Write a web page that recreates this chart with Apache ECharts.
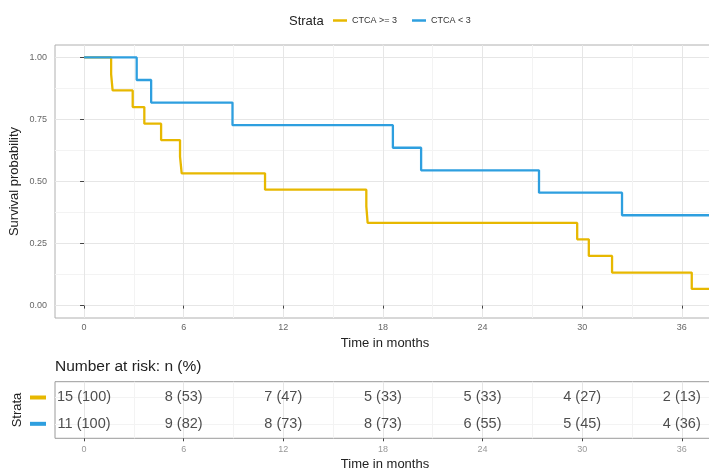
<!DOCTYPE html>
<html>
<head>
<meta charset="utf-8">
<script src="https://cdn.jsdelivr.net/npm/echarts@6/dist/echarts.min.js"></script>
<style>
  html, body { margin: 0; padding: 0; background: #fff; }
  #chart { width: 709px; height: 472px; }
</style>
</head>
<body>
<div id="chart"></div>
<script>
// Strata
const strataNames = ['CTCA >= 3', 'CTCA < 3'];
const strataColors = ['#E7B800', '#2E9FDF'];

// Kaplan–Meier steps: event times (months) and survival after each step
const highTimes = [0, 1.63, 1.72, 2.93, 3.63, 4.64, 5.78, 5.88, 10.9, 17.0, 17.08, 29.7, 30.4, 31.8, 36.6, 38];
const highSurv  = [1, 0.933, 0.867, 0.8, 0.733, 0.667, 0.6, 0.533, 0.467, 0.4, 0.333, 0.267, 0.2, 0.133, 0.067, 0.067];
const lowTimes  = [0, 3.17, 4.04, 8.94, 18.6, 20.3, 27.4, 32.4, 38];
const lowSurv   = [1, 0.909, 0.818, 0.727, 0.636, 0.545, 0.455, 0.364, 0.364];

// Axis ticks
const timeTicks = [0, 6, 12, 18, 24, 30, 36];
const timeMinor = [3, 9, 15, 21, 27, 33];
const survTicks = [0, 0.25, 0.5, 0.75, 1];
const survMinor = [0.125, 0.375, 0.625, 0.875];

// Number at risk
const riskTimes   = [0, 6, 12, 18, 24, 30, 36];
const riskHighN   = [15, 8, 7, 5, 5, 4, 2];
const riskHighPct = [100, 53, 47, 33, 33, 27, 13];
const riskLowN    = [11, 9, 8, 8, 6, 5, 4];
const riskLowPct  = [100, 82, 73, 73, 55, 45, 36];

const FONT = 'Liberation Sans, Arial, sans-serif';
const X_MIN = -1.75, X_MAX = 38;
const MAJOR = '#e6e6e6', MINOR = '#f3f3f3';

const zip = (a, b) => a.map((v, i) => [v, b[i]]);

const riskRows = [];
riskTimes.forEach((t, i) => {
  riskRows.push([t, 1, riskHighN[i] + ' (' + riskHighPct[i] + ')']);
  riskRows.push([t, 2, riskLowN[i] + ' (' + riskLowPct[i] + ')']);
});

function mainX(gridIndex, labelColor, labelMargin, nameGap) {
  return {
    type: 'value', gridIndex: gridIndex, min: X_MIN, max: X_MAX,
    name: 'Time in months', nameLocation: 'middle', nameGap: nameGap,
    nameTextStyle: { fontFamily: FONT, fontSize: 13, color: '#222' },
    axisLine: { show: false },
    axisTick: { show: true, customValues: timeTicks, length: 3, lineStyle: { color: '#444' } },
    axisLabel: { customValues: timeTicks, margin: labelMargin, fontFamily: FONT, fontSize: 9, color: labelColor },
    splitLine: { show: true, lineStyle: { color: MAJOR, width: 1 } }
  };
}
function minorAxis(gridIndex, min, max, values) {
  return {
    type: 'value', gridIndex: gridIndex, min: min, max: max,
    axisLine: { show: false }, axisLabel: { show: false },
    axisTick: { show: false, customValues: values },
    splitLine: { show: true, lineStyle: { color: MINOR, width: 1 } }
  };
}

const chart = echarts.init(document.getElementById('chart'), null, { renderer: 'canvas' });
chart.setOption({
  animation: false,
  backgroundColor: '#fff',
  title: {
    text: 'Strata', left: 289, top: 14.5, padding: 0,
    textStyle: { fontFamily: FONT, fontSize: 13, fontWeight: 'normal', color: '#222' }
  },
  legend: {
    data: strataNames, left: 333, top: 16, padding: 0,
    icon: 'rect', itemWidth: 14, itemHeight: 2.5, itemGap: 15,
    textStyle: { fontFamily: FONT, fontSize: 9, color: '#333' }
  },
  grid: [
    { left: 55, top: 45, width: 660, height: 273, outerBoundsMode: 'none', containLabel: false,
      show: true, borderColor: '#b0b0b0', borderWidth: 1, backgroundColor: '#fff' },
    { left: 55, top: 381.7, width: 660, height: 56.6, outerBoundsMode: 'none', containLabel: false,
      show: true, borderColor: '#9a9a9a', borderWidth: 1, backgroundColor: '#fff' }
  ],
  xAxis: [
    mainX(0, '#666', 5, 17),
    minorAxis(0, X_MIN, X_MAX, timeMinor),
    mainX(1, '#999', 7, 19.5),
    minorAxis(1, X_MIN, X_MAX, timeMinor)
  ],
  yAxis: [
    {
      type: 'value', gridIndex: 0, min: -0.05, max: 1.05,
      name: 'Survival probability', nameLocation: 'middle', nameGap: 34.5, nameMoveOverlap: false,
      nameTextStyle: { fontFamily: FONT, fontSize: 13, color: '#222' },
      axisLine: { show: false },
      axisTick: { show: true, customValues: survTicks, length: 4, lineStyle: { color: '#444' } },
      axisLabel: { customValues: survTicks, margin: 8, fontFamily: FONT, fontSize: 9, color: '#666',
                   formatter: v => v.toFixed(2) },
      splitLine: { show: true, lineStyle: { color: MAJOR, width: 1 } }
    },
    minorAxis(0, -0.05, 1.05, survMinor),
    {
      type: 'value', gridIndex: 1, min: 0.4, max: 2.55, inverse: true,
      name: 'Strata', nameLocation: 'middle', nameGap: 31.5, nameMoveOverlap: false,
      nameTextStyle: { fontFamily: FONT, fontSize: 13, color: '#222' },
      axisLine: { show: false },
      axisTick: { show: false, customValues: [1, 2] },
      axisLabel: {
        customValues: [1, 2], margin: 9,
        formatter: v => (v === 1 ? '{a| }' : '{b| }'),
        rich: {
          a: { width: 16, height: 4, backgroundColor: strataColors[0] },
          b: { width: 16, height: 4, backgroundColor: strataColors[1] }
        }
      },
      splitLine: { show: true, lineStyle: { color: MINOR, width: 1 } }
    }
  ],
  graphic: [{
    type: 'text', left: 55, top: 359,
    style: { text: 'Number at risk: n (%)', fontFamily: FONT, fontSize: 15.5, fill: '#222' }
  }],
  series: [
    {
      name: strataNames[0], type: 'line', step: 'end', xAxisIndex: 0, yAxisIndex: 0,
      data: zip(highTimes, highSurv), showSymbol: false, symbol: 'none',
      lineStyle: { color: strataColors[0], width: 2.3 }, itemStyle: { color: strataColors[0] }
    },
    {
      name: strataNames[1], type: 'line', step: 'end', xAxisIndex: 0, yAxisIndex: 0,
      data: zip(lowTimes, lowSurv), showSymbol: false, symbol: 'none',
      lineStyle: { color: strataColors[1], width: 2.3 }, itemStyle: { color: strataColors[1] }
    },
    {
      type: 'scatter', xAxisIndex: 2, yAxisIndex: 2, symbolSize: 0,
      data: riskRows, silent: true,
      label: {
        show: true, position: 'inside', formatter: p => p.data[2],
        fontFamily: FONT, fontSize: 14.5, color: '#222'
      }
    }
  ]
});
</script>
</body>
</html>
